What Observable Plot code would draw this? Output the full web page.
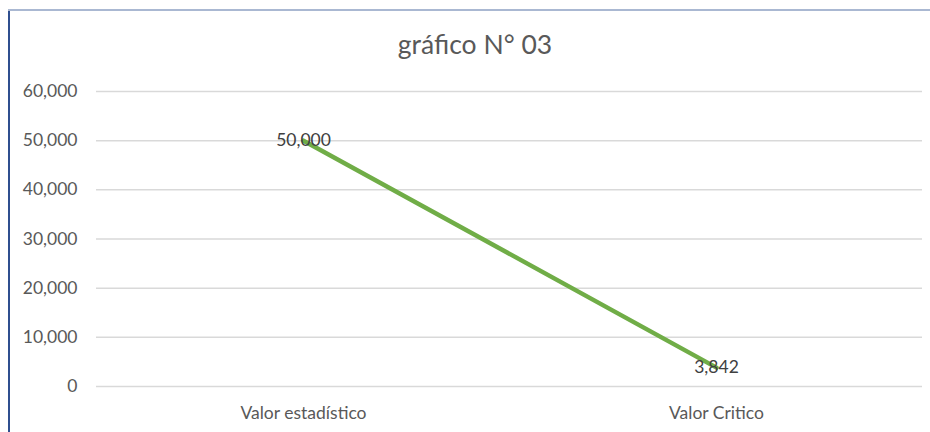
<!DOCTYPE html>
<html>
<head>
<meta charset="utf-8">
<script src="https://cdn.jsdelivr.net/npm/d3@7"></script>
<script src="https://cdn.jsdelivr.net/npm/@observablehq/plot@0.6"></script>
<style>
  html, body { margin: 0; padding: 0; background: #fff; }
  #wrap { position: relative; width: 930px; height: 432px; overflow: hidden; font-family: Lato, "Open Sans", sans-serif; }
  #bl { position: absolute; left: 8px; top: 10px; width: 2px; height: 430px; background: #2F4F8F; }
  #bt { position: absolute; left: 8px; top: 9px; width: 922px; height: 2px; background: #AAB8D2; }
  #title { position: absolute; left: 0; top: 28px; width: 950px; text-align: center; font-size: 26.5px; color: #595959; }
  #chart { position: absolute; left: 0; top: 0; }
</style>
</head>
<body>
<div id="wrap">
  <div id="chart"></div>
  <div id="bl"></div>
  <div id="bt"></div>
  <div id="title">gráfico N° 03</div>
</div>
<script>
const categories = ["Valor estadístico", "Valor Critico"];
const values = [50000, 3842];
const labels = ["50,000", "3,842"];
const yTicks = [0, 10000, 20000, 30000, 40000, 50000, 60000];

const data = categories.map((c, i) => ({cat: c, val: values[i], label: labels[i]}));

const chart = Plot.plot({
  width: 930,
  height: 432,
  marginLeft: 96,
  marginRight: 8,
  marginTop: 91,
  marginBottom: 46,
  style: { fontFamily: "Lato, 'Open Sans', sans-serif", fontSize: "17.5px", color: "#595959", background: "white" },
  x: { type: "point", domain: categories, padding: 0.5, label: null },
  y: { domain: [0, 60000], ticks: yTicks, label: null },
  marks: [
    Plot.gridY(yTicks, { stroke: "#d9d9d9", strokeOpacity: 1, strokeWidth: 1.5 }),
    Plot.axisY({ ticks: yTicks, tickSize: 0, tickPadding: 19, tickFormat: d => d === 0 ? "0" : d3.format(",")(d), fill: "#595959", fontSize: 17.5 }),
    Plot.axisX({ tickSize: 0, tickPadding: 20, fill: "#595959", fontSize: 17.5 }),
    Plot.line(data, { x: "cat", y: "val", stroke: "#70AD47", strokeWidth: 4.5, strokeLinecap: "round" }),
    Plot.text(data, { x: "cat", y: "val", text: "label", fill: "#404040", fontSize: 17.5 })
  ]
});
document.getElementById("chart").appendChild(chart);
</script>
</body>
</html>
